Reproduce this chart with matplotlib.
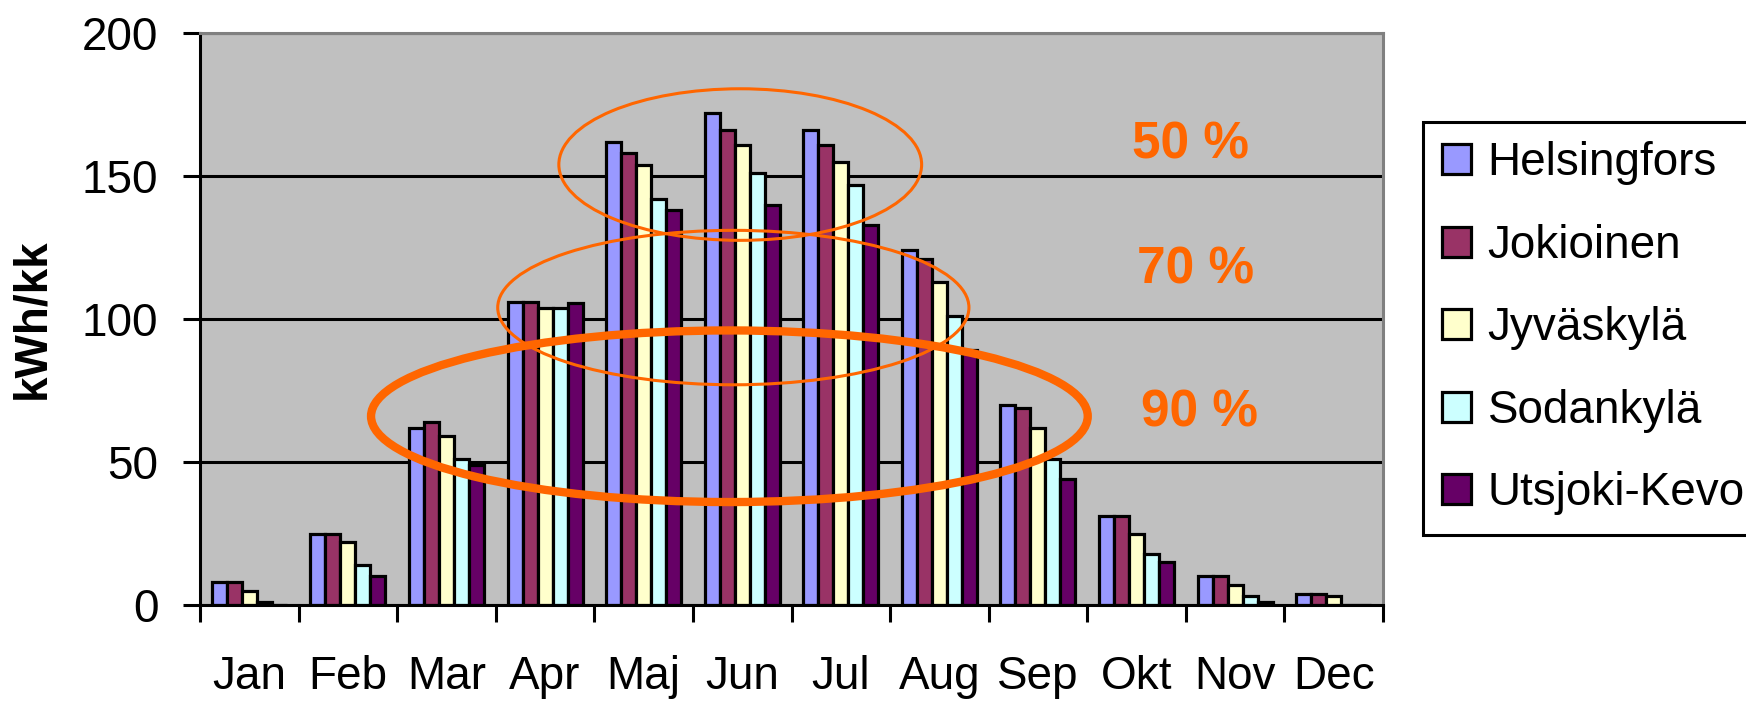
import matplotlib
matplotlib.use('Agg')
import matplotlib.pyplot as plt
from matplotlib.patches import Ellipse
import numpy as np

plt.rcParams['font.family'] = ['Liberation Sans', 'DejaVu Sans']

# --- data ---
months = ['Jan', 'Feb', 'Mar', 'Apr', 'Maj', 'Jun', 'Jul', 'Aug', 'Sep', 'Okt', 'Nov', 'Dec']
stations = ['Helsingfors', 'Jokioinen', 'Jyväskylä', 'Sodankylä', 'Utsjoki-Kevo']
helsingfors = [8, 25, 62, 106, 162, 172, 166, 124, 70, 31, 10, 4]
jokioinen = [8, 25, 64, 106, 158, 166, 161, 121, 69, 31, 10, 4]
jyvaskyla = [5, 22, 59, 104, 154, 161, 155, 113, 62, 25, 7, 3]
sodankyla = [1, 14, 51, 104, 142, 151, 147, 101, 51, 18, 3, 0]
utsjoki = [0, 10, 49, 105.5, 138, 140, 133, 89, 44, 15, 1, 0]
series = [helsingfors, jokioinen, jyvaskyla, sodankyla, utsjoki]
colors = ['#9999FF', '#993366', '#FFFFCC', '#CCFFFF', '#660066']

# share labels and the rings drawn round them
share_labels = ['50 %', '70 %', '90 %']
label_x = [9.55, 9.6, 9.64]
label_y = [161, 117, 67]
ring_x = [4.98, 4.91, 4.87]
ring_y = [154, 104, 66]
ring_w = [3.68, 4.78, 7.27]
ring_h = [53, 54, 60]
ring_lw = [2.2, 2.2, 6.0]

orange = '#FF6600'

fig = plt.figure(figsize=(17.46, 7.04), dpi=100)
ax = fig.add_axes([200 / 1746, 1 - 605 / 704, 1183 / 1746, 572 / 704])
ax.set_facecolor('#C0C0C0')

x = np.arange(len(months))
w = 0.152
for k, (name, vals, c) in enumerate(zip(stations, series, colors)):
    ax.bar(x + (k - 2) * w, vals, width=w, color=c, edgecolor='black',
           linewidth=2.3, label=name, zorder=2)

for cx, cy, ew, eh, lw in zip(ring_x, ring_y, ring_w, ring_h, ring_lw):
    ax.add_patch(Ellipse((cx, cy), ew, eh, fill=False, edgecolor=orange,
                         linewidth=lw, zorder=4))

for t, tx, ty in zip(share_labels, label_x, label_y):
    ax.text(tx, ty, t, color=orange, fontsize=37, fontweight='bold',
            ha='center', va='center', zorder=5)

ax.set_xlim(-0.5, 11.5)
ax.set_ylim(0, 200)
ax.set_yticks([0, 50, 100, 150, 200])
ax.yaxis.grid(True, color='black', linewidth=2.2)
ax.set_axisbelow(True)

ax.set_xticks(x)
ax.set_xticklabels(months)
ax.set_xticks(np.arange(-0.5, 12, 1), minor=True)
ax.tick_params(axis='x', which='major', length=0, pad=36, labelsize=33)
ax.tick_params(axis='x', which='minor', length=12, width=2.2, direction='out')
ax.tick_params(axis='y', length=12, width=2.2, pad=18, labelsize=33, direction='out')

for side in ['left', 'bottom']:
    ax.spines[side].set_color('black')
    ax.spines[side].set_linewidth(2.2)
for side in ['top', 'right']:
    ax.spines[side].set_color('#808080')
    ax.spines[side].set_linewidth(2.2)

ax.set_ylabel('kWh/kk', fontsize=33, fontweight='bold')
ax.yaxis.set_label_coords(-0.142, 0.5)
ax.yaxis.label.set_va('center')

leg = fig.legend(loc='upper left', bbox_to_anchor=(1423 / 1746, 1 - 122 / 704),
                 fontsize=33, frameon=True, fancybox=False, framealpha=1,
                 edgecolor='black', handlelength=0.62, handleheight=0.63,
                 handletextpad=0.37, labelspacing=0.84, borderpad=0.42,
                 borderaxespad=0)
leg.get_frame().set_linewidth(2.2)

fig.savefig('out.png', dpi=100)
